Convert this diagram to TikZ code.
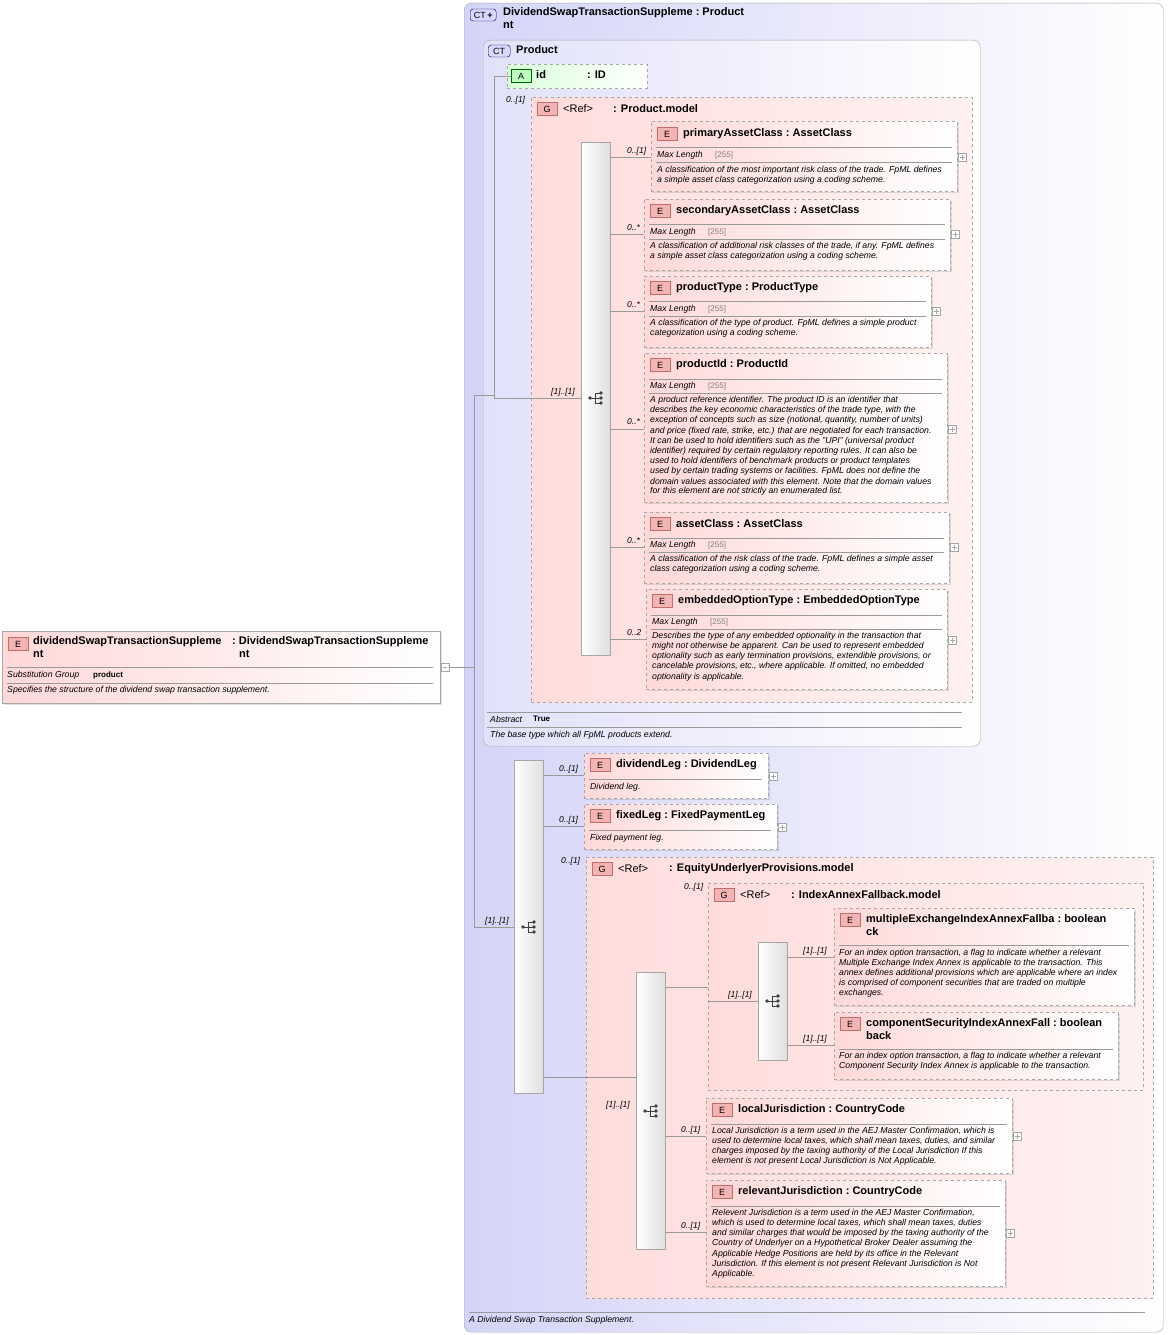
\documentclass[tikz,border=0pt]{standalone}
\usepackage{fontspec}
\setmainfont{Liberation Sans}
\usetikzlibrary{shadows}
\definecolor{bdr}{HTML}{A8A8A8}
\definecolor{ebg}{HTML}{FFD8D8}
\definecolor{gbg}{HTML}{FFDCDC}
\definecolor{ctl}{HTML}{D4D4F8}
\definecolor{bdgf}{HTML}{F4B4B4}
\definecolor{bdgd}{HTML}{B04848}
\tikzset{
 elembox/.style={draw=bdr,dashed,left color=ebg,right color=white,inner sep=0,drop shadow={opacity=0.25,shadow xshift=2pt,shadow yshift=-2pt}},
 rootbox/.style={draw=bdr,left color=ebg,right color=white,inner sep=0,drop shadow={opacity=0.25,shadow xshift=2pt,shadow yshift=-2pt}},
 grpbox/.style={draw=bdr,dashed,line width=0.8pt,left color=gbg,right color=gbg!40!white,inner sep=0},
 seqbar/.style={draw=gray!70,left color=white,right color=gray!25,inner sep=0},
 badge/.style={draw=bdgd!80,fill=bdgf,inner sep=0,minimum width=20pt,minimum height=13pt,font=\fontsize{9}{10}\selectfont},
 ctbadge/.style={draw=blue!40!black,fill=blue!15,rounded corners=3pt,inner sep=0,minimum height=12pt,font=\fontsize{9}{10}\selectfont},
 ttl/.style={inner sep=0,font=\bfseries\fontsize{11}{12}\selectfont},
 desc/.style={inner sep=0,font=\itshape\fontsize{8.7}{9}\selectfont},
 gr/.style={inner sep=0,font=\fontsize{8}{9}\selectfont,text=gray},
 card/.style={inner sep=0,font=\itshape\fontsize{8.5}{9}\selectfont},
 sepline/.style={draw=gray!80,line width=0.5pt},
 conn/.style={draw=gray!80,line width=0.5pt},
}
\newcommand\boxat[6]{\pgfmathsetmacro\ww{#5-#3}\pgfmathsetmacro\hh{#6-#4}\node[#1,minimum width=\ww pt,minimum height=\hh pt,anchor=north west] (#2) at (#3,#4) {};}
\newcommand\etitle[3]{\node[badge,anchor=west] at (#1,#2) {E};\node[ttl,anchor=west] at ({#1+26},#2) {#3};}
\newcommand\sep[3]{\draw[sepline] (#1,#3) -- (#2,#3);}
\newcommand\dl[3]{\node[desc,anchor=west] at (#1,#2) {#3};}
\newcommand\ml[2]{\node[desc,anchor=west] at (#1,#2) {Max Length};\node[gr,anchor=west] at ({#1+58},#2) {[255]};}
\newcommand\plusb[2]{\draw[gray!70,fill=white] ({#1-4},{#2-4}) rectangle ({#1+4},{#2+4});\draw[gray!70] ({#1-2.5},#2) -- ({#1+2.5},#2) ({#1},{#2-2.5}) -- ({#1},{#2+2.5});}
\newcommand\seqicon[2]{\fill[black!75] ({#1-6},#2) circle (1.8pt);\draw[black!75,line width=0.9pt] ({#1-6},#2) -- ({#1-1},#2) ({#1-1},{#2-5}) -- ({#1-1},{#2+5}) ({#1-1},{#2-5}) -- ({#1+5},{#2-5}) ({#1-1},{#2+5}) -- ({#1+5},{#2+5});\fill[black!75] ({#1+5},{#2-5}) circle (1.8pt) ({#1+5},{#2}) circle (1.8pt) ({#1+5},{#2+5}) circle (1.8pt);\draw[black!75,line width=0.9pt] ({#1-1},#2) -- ({#1+5},#2);}
\newcommand\gtitle[4]{\node[badge,anchor=west] at (#1,#2) {G};\node[inner sep=0,anchor=west,font=\fontsize{11}{12}\selectfont] at ({#1+26},#2) {<Ref>};\node[ttl,anchor=west] at (#3,#2) {#4};}
\begin{document}
\begin{tikzpicture}[x=1pt,y=-1pt]
\useasboundingbox[fill=white] (0,0) rectangle (1168,1335);
% outer CT
\node[draw=bdr,rounded corners=7pt,left color=ctl,right color=white,minimum width=699pt,minimum height=1329pt,anchor=north west,inner sep=0] (outer) at (464,3) {};
\node[ctbadge,minimum width=26pt,anchor=west] (ctb) at (470,15) {CT\,\textbf{+}};
\node[ttl,anchor=west] at (503,13) {DividendSwapTransactionSuppleme\ :\ Product};
\node[ttl,anchor=west] at (503,25) {nt};
\sep{469}{1145}{1312}
\dl{469}{1320}{A Dividend Swap Transaction Supplement.}
% Product CT
\node[draw=bdr,rounded corners=7pt,left color=ctl!70!white,right color=white,minimum width=497pt,minimum height=706pt,anchor=north west,inner sep=0] (prod) at (483,40) {};
\node[ctbadge,minimum width=22pt,anchor=west] at (488,51) {CT};
\node[ttl,anchor=west] at (516,50) {Product};
% attribute
\node[draw=bdr,dashed,left color=green!15,right color=white,minimum width=140pt,minimum height=24pt,anchor=north west,inner sep=0] (attr) at (507,64) {};
\node[draw=green!40!black,fill=green!25,inner sep=0,minimum width=20pt,minimum height=13pt,font=\fontsize{9}{10}\selectfont,anchor=west] (abdg) at (511,76) {A};
\node[ttl,anchor=west] at (536,75) {id};
\node[ttl,anchor=west] at (587,75) {: ID};
% Product.model group
\boxat{grpbox}{pm}{531}{97}{972}{702}
\node[card,anchor=west] at (506,100) {0..[1]};
\gtitle{537}{109}{613}{: Product.model}
\boxat{seqbar}{seq1}{581}{142}{610}{655}
\seqicon{596}{398}
\node[card,anchor=west] at (551,392) {[1]..[1]};
% primaryAssetClass
\boxat{elembox}{pac}{651}{121}{957}{191}
\etitle{657}{134}{primaryAssetClass\ :\ AssetClass}
\sep{656}{952}{147}\ml{657}{155}\sep{656}{952}{162}
\dl{657}{170}{A classification of the most important risk class of the trade. FpML defines}
\dl{657}{180}{a simple asset class categorization using a coding scheme.}
\plusb{962}{157}
\draw[conn] (seq1.east |- 0,157) -- (pac.west |- 0,157);
\node[card,anchor=west] at (627,151) {0..[1]};
% secondaryAssetClass
\boxat{elembox}{sac}{644}{199}{950}{270}
\etitle{650}{211}{secondaryAssetClass\ :\ AssetClass}
\sep{649}{945}{224}\ml{650}{232}\sep{649}{945}{239}
\dl{650}{246}{A classification of additional risk classes of the trade, if any. FpML defines}
\dl{650}{256}{a simple asset class categorization using a coding scheme.}
\plusb{955}{234}
\draw[conn] (seq1.east |- 0,234) -- (sac.west |- 0,234);
\node[card,anchor=west] at (627,228) {0..*};
% productType
\boxat{elembox}{pt}{644}{276}{931}{347}
\etitle{650}{288}{productType\ :\ ProductType}
\sep{649}{926}{301}\ml{650}{309}\sep{649}{926}{316}
\dl{650}{323}{A classification of the type of product. FpML defines a simple product}
\dl{650}{333}{categorization using a coding scheme.}
\plusb{936}{311}
\draw[conn] (seq1.east |- 0,311) -- (pt.west |- 0,311);
\node[card,anchor=west] at (627,305) {0..*};
% productId
\boxat{elembox}{pid}{644}{353}{947}{502}
\etitle{650}{365}{productId\ :\ ProductId}
\sep{649}{942}{379}\ml{650}{386}\sep{649}{942}{393}
\dl{650}{400}{A product reference identifier. The product ID is an identifier that}
\dl{650}{410}{describes the key economic characteristics of the trade type, with the}
\dl{650}{420}{exception of concepts such as size (notional, quantity, number of units)}
\dl{650}{431}{and price (fixed rate, strike, etc.) that are negotiated for each transaction.}
\dl{650}{441}{It can be used to hold identifiers such as the "UPI" (universal product}
\dl{650}{451}{identifier) required by certain regulatory reporting rules. It can also be}
\dl{650}{461}{used to hold identifiers of benchmark products or product templates}
\dl{650}{471}{used by certain trading systems or facilities. FpML does not define the}
\dl{650}{481}{domain values associated with this element. Note that the domain values}
\dl{650}{491}{for this element are not strictly an enumerated list.}
\plusb{952}{429}
\draw[conn] (seq1.east |- 0,429) -- (pid.west |- 0,429);
\node[card,anchor=west] at (627,422) {0..*};
% assetClass
\boxat{elembox}{ac}{644}{512}{949}{583}
\etitle{650}{524}{assetClass\ :\ AssetClass}
\sep{649}{944}{538}\ml{650}{545}\sep{649}{944}{552}
\dl{650}{559}{A classification of the risk class of the trade. FpML defines a simple asset}
\dl{650}{569}{class categorization using a coding scheme.}
\plusb{954}{547}
\draw[conn] (seq1.east |- 0,547) -- (ac.west |- 0,547);
\node[card,anchor=west] at (627,541) {0..*};
% embeddedOptionType
\boxat{elembox}{eot}{646}{589}{947}{689}
\etitle{652}{601}{embeddedOptionType\ :\ EmbeddedOptionType}
\sep{651}{942}{615}\ml{652}{622}\sep{651}{942}{629}
\dl{652}{636}{Describes the type of any embedded optionality in the transaction that}
\dl{652}{646}{might not otherwise be apparent. Can be used to represent embedded}
\dl{652}{656}{optionality such as early termination provisions, extendible provisions, or}
\dl{652}{666}{cancelable provisions, etc., where applicable. If omitted, no embedded}
\dl{652}{677}{optionality is applicable.}
\plusb{952}{640}
\draw[conn] (seq1.east |- 0,639) -- (eot.west |- 0,639);
\node[card,anchor=west] at (627,633) {0..2};
% abstract
\sep{487}{962}{712}
\node[desc,anchor=west] at (490,719) {Abstract};
\node[inner sep=0,anchor=west,font=\bfseries\fontsize{8}{9}\selectfont] at (533,719) {True};
\sep{487}{962}{727}
\dl{490}{735}{The base type which all FpML products extend.}
% product internal connectors
\coordinate (pj) at (494,395);
\draw[conn] (pj) -- (494,76) -- (abdg.west);
\draw[conn] (pj) |- (seq1.west |- 0,398);
% root element
\boxat{rootbox}{root}{2}{631}{440}{703}
\node[badge,anchor=west] at (8,644) {E};
\node[ttl,anchor=west] at (33,642) {dividendSwapTransactionSuppleme};
\node[ttl,anchor=west] at (33,654) {nt};
\node[ttl,anchor=west] at (232,642) {:\ DividendSwapTransactionSuppleme};
\node[ttl,anchor=west] at (239,654) {nt};
\sep{7}{433}{667}
\node[desc,anchor=west] at (7,675) {Substitution Group};
\node[inner sep=0,anchor=west,font=\bfseries\fontsize{8}{9}\selectfont] at (93,675) {product};
\sep{7}{433}{683}
\dl{7}{690}{Specifies the structure of the dividend swap transaction supplement.}
\draw[gray!70,fill=white] (441,663) rectangle (449,671);\draw[gray!70] (443,667) -- (447,667);
\coordinate (rj) at (474,667);
\draw[conn] (449,667) -- (rj);
% second sequence
\boxat{seqbar}{seq2}{514}{760}{543}{1093}
\seqicon{529}{927}
\node[card,anchor=west] at (485,921) {[1]..[1]};
\draw[conn] (pj) -- (474,395) -- (474,927) -- (seq2.west |- 0,927);
% dividendLeg
\boxat{elembox}{dl}{584}{753}{768}{798}
\etitle{590}{765}{dividendLeg\ :\ DividendLeg}
\sep{589}{762}{779}\dl{590}{787}{Dividend leg.}
\plusb{773}{776}
\draw[conn] (seq2.east |- 0,775) -- (dl.west |- 0,775);
\node[card,anchor=west] at (559,769) {0..[1]};
% fixedLeg
\boxat{elembox}{fl}{584}{804}{777}{849}
\etitle{590}{816}{fixedLeg\ :\ FixedPaymentLeg}
\sep{589}{771}{830}\dl{590}{838}{Fixed payment leg.}
\plusb{782}{827}
\draw[conn] (seq2.east |- 0,826) -- (fl.west |- 0,826);
\node[card,anchor=west] at (559,820) {0..[1]};
% EquityUnderlyerProvisions group
\boxat{grpbox}{eup}{586}{857}{1153}{1298}
\node[card,anchor=west] at (561,861) {0..[1]};
\gtitle{592}{869}{669}{: EquityUnderlyerProvisions.model}
\boxat{seqbar}{seq3}{636}{972}{665}{1249}
\seqicon{651}{1111}
\node[card,anchor=west] at (606,1105) {[1]..[1]};
\draw[conn] (seq2.east |- 0,1077) -- (seq3.west |- 0,1077);
% IndexAnnexFallback group
\boxat{grpbox}{iaf}{708}{883}{1143}{1090}
\node[card,anchor=west] at (684,887) {0..[1]};
\gtitle{714}{895}{791}{: IndexAnnexFallback.model}
\boxat{seqbar}{seq4}{758}{942}{787}{1060}
\seqicon{773}{1001}
\node[card,anchor=west] at (728,995) {[1]..[1]};
\draw[conn] (seq3.east |- 0,987) -- (iaf.west |- 0,987);
\draw[conn] (iaf.west |- 0,1001) -- (seq4.west |- 0,1001);
% multipleExchange
\boxat{elembox}{mei}{834}{908}{1134}{1005}
\etitle{840}{920}{multipleExchangeIndexAnnexFallba\ :\ boolean}
\node[ttl,anchor=west] at (866,932) {ck};
\sep{839}{1129}{945}
\dl{839}{953}{For an index option transaction, a flag to indicate whether a relevant}
\dl{839}{963}{Multiple Exchange Index Annex is applicable to the transaction. This}
\dl{839}{973}{annex defines additional provisions which are applicable where an index}
\dl{839}{983}{is comprised of component securities that are traded on multiple}
\dl{839}{993}{exchanges.}
\draw[conn] (seq4.east |- 0,957) -- (mei.west |- 0,957);
\node[card,anchor=west] at (803,951) {[1]..[1]};
% componentSecurity
\boxat{elembox}{csi}{834}{1012}{1118}{1079}
\etitle{840}{1024}{componentSecurityIndexAnnexFall\ :\ boolean}
\node[ttl,anchor=west] at (866,1036) {back};
\sep{839}{1113}{1049}
\dl{839}{1056}{For an index option transaction, a flag to indicate whether a relevant}
\dl{839}{1066}{Component Security Index Annex is applicable to the transaction.}
\draw[conn] (seq4.east |- 0,1045) -- (csi.west |- 0,1045);
\node[card,anchor=west] at (803,1039) {[1]..[1]};
% localJurisdiction
\boxat{elembox}{lj}{706}{1098}{1012}{1173}
\etitle{712}{1110}{localJurisdiction\ :\ CountryCode}
\sep{711}{1007}{1124}
\dl{712}{1131}{Local Jurisdiction is a term used in the AEJ Master Confirmation, which is}
\dl{712}{1141}{used to determine local taxes, which shall mean taxes, duties, and similar}
\dl{712}{1151}{charges imposed by the taxing authority of the Local Jurisdiction If this}
\dl{712}{1161}{element is not present Local Jurisdiction is Not Applicable.}
\plusb{1017}{1136}
\draw[conn] (seq3.east |- 0,1136) -- (lj.west |- 0,1136);
\node[card,anchor=west] at (681,1130) {0..[1]};
% relevantJurisdiction
\boxat{elembox}{rj2}{706}{1180}{1005}{1286}
\etitle{712}{1192}{relevantJurisdiction\ :\ CountryCode}
\sep{711}{1000}{1206}
\dl{712}{1213}{Relevent Jurisdiction is a term used in the AEJ Master Confirmation,}
\dl{712}{1223}{which is used to determine local taxes, which shall mean taxes, duties}
\dl{712}{1233}{and similar charges that would be imposed by the taxing authority of the}
\dl{712}{1243}{Country of Underlyer on a Hypothetical Broker Dealer assuming the}
\dl{712}{1254}{Applicable Hedge Positions are held by its office in the Relevant}
\dl{712}{1264}{Jurisdiction. If this element is not present Relevant Jurisdiction is Not}
\dl{712}{1274}{Applicable.}
\plusb{1010}{1233}
\draw[conn] (seq3.east |- 0,1232) -- (rj2.west |- 0,1232);
\node[card,anchor=west] at (681,1226) {0..[1]};
\end{tikzpicture}
\end{document}
